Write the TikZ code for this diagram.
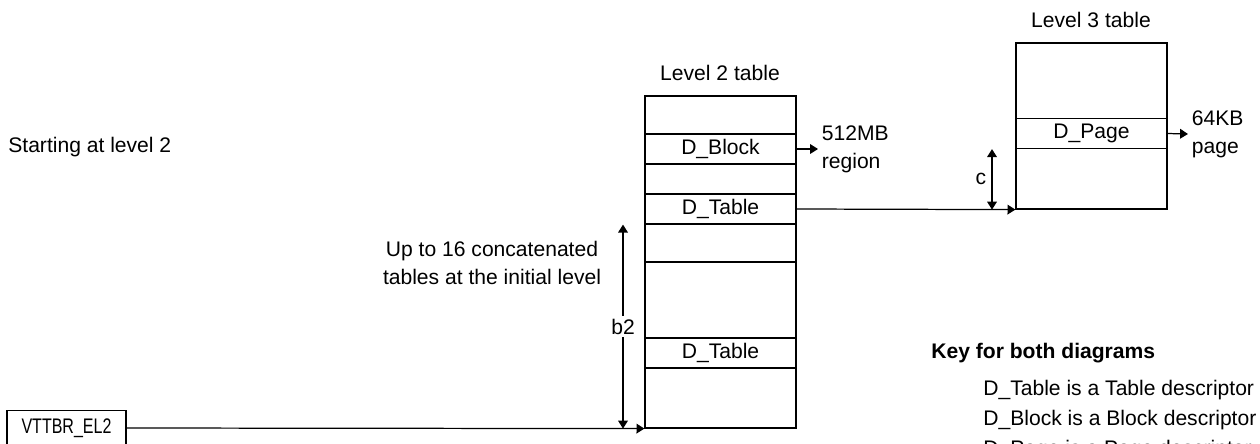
\documentclass[tikz,border=0pt]{standalone}
\usepackage{fontspec}
\setmainfont{Liberation Sans}
\usetikzlibrary{arrows.meta, calc, positioning}

\begin{document}
\begin{tikzpicture}[
    x=0.02cm, y=-0.02cm,
    font=\fontsize{12}{16}\selectfont,
    lvltable/.style={
        draw=black, line width=0.7pt, fill=white,
        minimum width=3.02cm, inner sep=0pt
    },
    entry/.style={
        draw=black, line width=0.7pt,
        minimum width=3.02cm, minimum height=0.6cm, inner sep=0pt
    },
    note/.style={
        align=left, inner sep=0pt, text=black
    },
    ptr/.style={
        -{Triangle[length=4.5pt, width=5.5pt]}, line width=0.7pt, black
    },
    extent/.style={
        {Triangle[length=4.5pt, width=5.5pt]}-{Triangle[length=4.5pt, width=5.5pt]},
        line width=0.7pt, black
    }
]
\useasboundingbox (0,0) rectangle (1260,443);

% level 2 table
\node[note] (l2title) at (720,73) {Level 2 table};
\node[lvltable, minimum height=6.64cm] (l2) at (720.5,262) {};
\node[entry] (blk) at (720.5,149) {D\_Block};
\node[entry] (tbl) at (720.5,209) {D\_Table};
\node[entry] (tbl2) at (720.5,353) {D\_Table};
\coordinate (gap) at (0,262);
\draw[line width=0.7pt] (l2.west |- gap) -- (l2.east |- gap);

% level 3 table
\node[note] (l3title) at (1091,20) {Level 3 table};
\node[lvltable, minimum height=3.32cm] (l3) at (1091.5,126) {};
\node[entry] (pg) at (1091.5,133.5) {D\_Page};

% outputs
\node[note, anchor=west, inner sep=2pt] (reg) at (818,149) {512MB\\region};
\node[note, anchor=west, inner sep=2pt] (pgout) at (1188,134) {64KB\\page};
\draw[ptr] (blk.east) -- (reg.west);
\draw[ptr] (pg.east) -- (pgout.west);

% base register
\node[entry, minimum width=2.38cm, minimum height=0.7cm,
    font=\fontsize{12}{16}\selectfont\addfontfeature{FakeStretch=0.76}] (vttbr) at (66.5,428) {VTTBR\_EL2};
\draw[ptr] (vttbr.east) -- (l2.south west);
\draw[ptr] (tbl.east) -- (l3.south west);

% spans
\coordinate (b2x) at (623,0);
\draw[extent] (tbl.south -| b2x) -- node[fill=white, inner sep=1.5pt] (b2) {b2} (l2.south -| b2x);
\coordinate (cx) at (992,0);
\draw[extent] (pg.south -| cx) -- node[left, inner sep=3pt] (c) {c} (l3.south -| cx);

\node[note, anchor=west] (start) at (8,147) {Starting at level 2};
\node[note, align=center] (concat) at (492,263) {Up to 16 concatenated\\tables at the initial level};

% key
\node[note, anchor=west, font=\fontsize{12}{16}\selectfont\bfseries] (keyhead) at (931,353) {Key for both diagrams};
\node[note, anchor=west] (key1) at (983,390) {D\_Table is a Table descriptor};
\node[note, anchor=west] (key2) at (983,420) {D\_Block is a Block descriptor};
\node[note, anchor=west] (key3) at (983,450) {D\_Page is a Page descriptor};
\end{tikzpicture}
\end{document}
